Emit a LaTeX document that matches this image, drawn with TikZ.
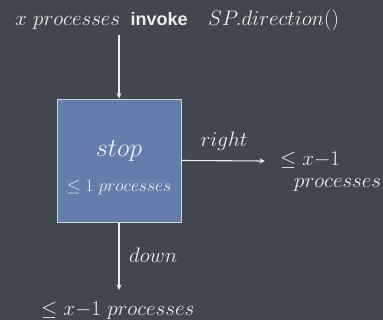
\RequirePackage{fix-cm}
\documentclass[tikz,border=0pt]{standalone}
\usepackage{fontspec}
\newfontfamily\sansb{Liberation Sans}
\usetikzlibrary{arrows.meta}
\definecolor{bg}{RGB}{66,70,78}
\definecolor{boxfill}{RGB}{100,125,172}
\definecolor{boxline}{RGB}{208,212,220}
\definecolor{ink}{RGB}{238,238,240}
\tikzset{
  lbl/.style={text=ink, inner sep=0pt, font=\fontsize{21}{25}\selectfont},
  small/.style={text=ink, inner sep=0pt, font=\fontsize{17.5}{21}\selectfont},
  big/.style={text=ink, inner sep=0pt, font=\fontsize{26}{30}\selectfont},
  conn/.style={draw=ink, line width=1.1pt, -{Stealth[length=5.5pt,width=5pt]}},
  stopbox/.style={draw=boxline, fill=boxfill, line width=0.9pt, minimum width=124pt, minimum height=123pt, inner sep=0pt}
}
\begin{document}
\begin{tikzpicture}[x=1pt,y=-1pt]
\fill[bg] (0,0) rectangle (383,320);
\useasboundingbox (0,0) rectangle (383,320);
% top line
\node[lbl, anchor=base west] (xp) at (15,26) {$x\ processes$};
\node[text=ink, inner sep=0pt, anchor=base west, font=\sansb\bfseries\fontsize{18}{22}\selectfont] (inv) at (xp.base east) [xshift=10pt] {invoke};
\node[lbl, anchor=base west] (sp) at (208,26) {$SP.direction()$};
\coordinate (topin) at (119,35);
% box
\node[stopbox] (box) at (119,160.5) {};
\node[big, anchor=base] (stop) at (119,157) {$stop$};
\node[small, anchor=base] (le1) at (119,192) {$\leq 1\ processes$};
% right branch
\coordinate (rend) at (265,161);
\node[lbl, anchor=base] (right) at (224,147) {$right$};
\node[lbl, anchor=base west] (rx) at (280,166) {$\leq x{-}1$};
\node[lbl, anchor=base west] (rp) at (294,188) {$processes$};
% down branch
\coordinate (dend) at (119,290);
\node[lbl, anchor=base west] (down) at (129,263) {$down$};
\node[lbl, anchor=base west] (bx) at (41,316) {$\leq x{-}1\ processes$};
% connectors
\draw[conn] (topin) -- (box.north);
\draw[conn] (box.east) -- (rend);
\draw[conn] (box.south) -- (dend);
\end{tikzpicture}
\end{document}
